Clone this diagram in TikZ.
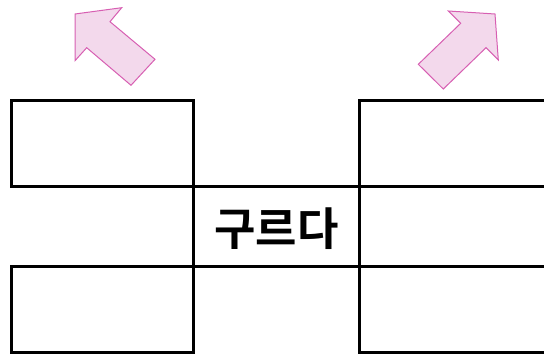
\documentclass[tikz,border=0pt]{standalone}
\usepackage{fontspec}
\newfontfamily\krfont[BoldFont={* Bold}]{Noto Sans CJK KR}
\definecolor{arrowfill}{RGB}{243,217,236}
\definecolor{arrowline}{RGB}{215,95,178}
\tikzset{
  gridline/.style={line width=3pt, black, line cap=rect},
  bigarrow/.style={fill=arrowfill, draw=arrowline, line width=1pt, line join=miter},
  label/.style={font=\krfont\bfseries\fontsize{45}{50}\selectfont, inner sep=0pt}
}
\begin{document}
\begin{tikzpicture}[x=1pt,y=-1pt]
\useasboundingbox (0,0) rectangle (544,355);
% arrows
\draw[bigarrow] (75,14) -- (121.7,7.7) -- (110,21.7) -- (155,59.3) -- (131,85.3) -- (86.7,47.7) -- (75,60.7) -- cycle;
\draw[bigarrow] (448.3,11) -- (495,14) -- (498.3,60) -- (486,47.7) -- (443.3,89) -- (418.3,64.3) -- (460.7,23.3) -- cycle;
% grid
\draw[gridline] (11,101) rectangle (193,187);
\draw[gridline] (11,267) rectangle (193,353);
\draw[gridline] (548,101) -- (359,101) -- (359,353) -- (548,353);
\draw[gridline] (193,187) -- (548,187);
\draw[gridline] (193,267) -- (548,267);
\draw[gridline] (193,187) -- (193,267);
\node[label] (word) at (276.5,228.5) {구르다};
\end{tikzpicture}
\end{document}
